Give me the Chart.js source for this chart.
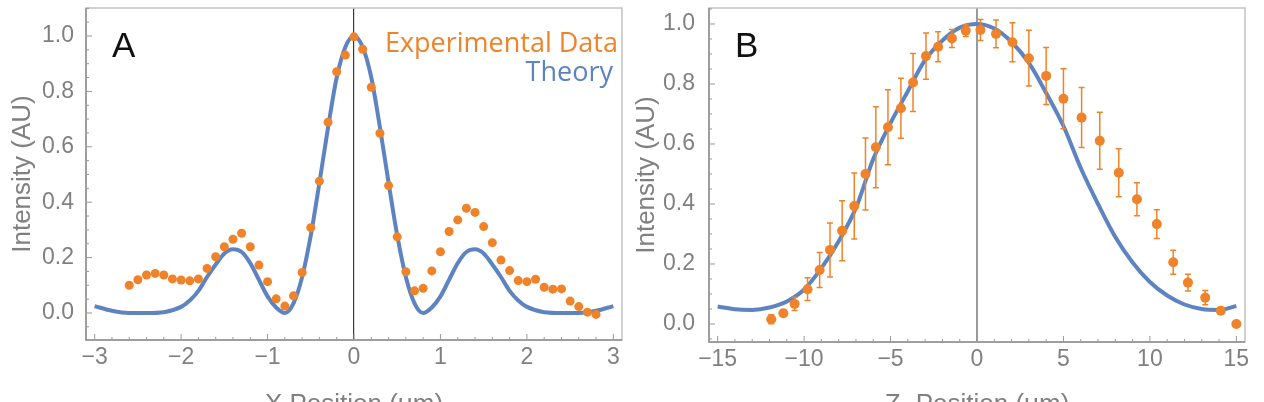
<!DOCTYPE html>
<html>
<head>
<meta charset="utf-8">
<script src="https://cdn.jsdelivr.net/npm/chart.js@4"></script>
<style>
html,body{margin:0;padding:0;background:#fff;overflow:hidden;}
#wrapA{position:absolute;left:0;top:0;width:630px;height:430px;}
#wrapB{position:absolute;left:630px;top:0;width:634px;height:430px;}
</style>
</head>
<body>
<div id="wrapA"><canvas id="chartA"></canvas></div>
<div id="wrapB"><canvas id="chartB"></canvas></div>
<script>
// panel A : lateral profile
const expAX = [-2.6,-2.5,-2.4,-2.3,-2.2,-2.1,-2.0,-1.9,-1.8,-1.7,-1.6,-1.5,-1.4,-1.3,-1.2,-1.1,-1.0,-0.9,-0.8,-0.7,-0.6,-0.5,-0.4,-0.3,-0.2,-0.1,0.0,
               0.1,0.2,0.3,0.4,0.5,0.6,0.7,0.8,0.9,1.0,1.1,1.2,1.3,1.4,1.5,1.6,1.7,1.8,1.9,2.0,2.1,2.2,2.3,2.4,2.5,2.6,2.7,2.8];
const expAY = [0.100,0.120,0.137,0.143,0.137,0.123,0.119,0.116,0.123,0.161,0.203,0.239,0.266,0.288,0.239,0.173,0.113,0.051,0.025,0.062,0.146,0.308,0.476,0.689,0.871,0.931,0.997,
               0.952,0.815,0.649,0.460,0.275,0.149,0.080,0.089,0.152,0.221,0.294,0.336,0.378,0.363,0.312,0.254,0.191,0.153,0.117,0.113,0.122,0.093,0.086,0.087,0.043,0.023,0.003,-0.005];
const theoryAX = [-3.0,-2.8,-2.6,-2.4,-2.2,-2.0,-1.9,-1.8,-1.7,-1.6,-1.5,-1.4,-1.3,-1.2,-1.1,-1.0,-0.9,-0.8,-0.7,-0.6,-0.5,-0.4,-0.3,-0.2,-0.1,0.0,
                  0.1,0.2,0.3,0.4,0.5,0.6,0.7,0.8,0.9,1.0,1.1,1.2,1.3,1.4,1.5,1.6,1.7,1.8,1.9,2.0,2.2,2.4,2.6,2.8,3.0];
const theoryAY = [0.025,0.008,0.0,0.0,0.003,0.022,0.045,0.08,0.13,0.175,0.215,0.23,0.22,0.18,0.12,0.06,0.02,0.0,0.035,0.13,0.28,0.47,0.67,0.85,0.96,1.0,
                  0.96,0.85,0.67,0.47,0.28,0.13,0.035,0.0,0.02,0.06,0.12,0.18,0.22,0.23,0.215,0.175,0.13,0.08,0.045,0.022,0.003,0.0,0.0,0.008,0.025];
const xTicksA = [-3,-2,-1,0,1,2,3];
const yTicksA = [0,0.2,0.4,0.6,0.8,1.0];

// panel B : axial profile
const expBX = [-11.9,-11.2,-10.55,-9.8,-9.1,-8.5,-7.8,-7.1,-6.45,-5.85,-5.15,-4.4,-3.7,-2.95,-2.25,-1.45,-0.65,0.2,1.1,2.05,3.0,4.0,5.0,6.05,7.1,8.2,9.25,10.4,11.35,12.2,13.2,14.1,15.0];
const expBY = [0.016,0.036,0.067,0.116,0.18,0.247,0.311,0.393,0.50,0.589,0.656,0.719,0.805,0.893,0.924,0.952,0.978,0.98,0.967,0.939,0.886,0.827,0.751,0.688,0.611,0.504,0.416,0.333,0.206,0.138,0.088,0.044,0.0];
const expBErr = [0.015,0.01,0.022,0.038,0.058,0.09,0.1,0.11,0.12,0.135,0.125,0.1,0.097,0.077,0.05,0.03,0.02,0.035,0.046,0.065,0.093,0.095,0.1,0.1,0.095,0.08,0.055,0.048,0.04,0.028,0.024,0.01,0];
const theoryBX = [-15,-14,-13,-12,-11,-10,-9,-8,-7,-6,-5,-4,-3,-2,-1,0,1,2,3,4,5,6,7,8,9,10,11,12,13,14,15];
const theoryBY = [0.058,0.049,0.047,0.055,0.075,0.115,0.186,0.276,0.387,0.55,0.67,0.776,0.88,0.945,0.988,1.0,0.985,0.94,0.87,0.77,0.66,0.52,0.40,0.29,0.205,0.14,0.095,0.065,0.05,0.047,0.06];
const xTicksB = [-15,-10,-5,0,5,10,15];
const yTicksB = [0,0.2,0.4,0.6,0.8,1.0];

const BLUE = '#5D83C0';
const ORANGE = '#F08329';
const GREY = '#808080';

function pts(xs, ys) {
    return xs.map((x, i) => ({x: x, y: ys[i]}));
}

function minus(v) {
    return String(v).replace('-', '\u2212');
}

// frame + inward Mathematica style ticks
const frameTicks = {
    id: 'frameTicks',
    beforeDatasetsDraw(chart, args, o) {
        const {ctx, chartArea: a, scales: {x, y}} = chart;
        ctx.save();
        ctx.strokeStyle = '#c2c2c2';
        ctx.lineWidth = 1.5;
        ctx.strokeRect(a.left, a.top, a.right - a.left, a.bottom - a.top);
        ctx.strokeStyle = '#8f8f8f';
        ctx.beginPath();
        ctx.moveTo(a.left, a.top);
        ctx.lineTo(a.left, a.bottom);
        ctx.lineTo(a.right, a.bottom);
        ctx.stroke();

        ctx.lineWidth = 1;
        ctx.strokeStyle = '#999';
        ctx.beginPath();
        const s0 = Math.ceil(x.min / o.minorX - 1e-9), s1 = Math.floor(x.max / o.minorX + 1e-9);
        for (let i = s0; i <= s1; i++) {
            const v = i * o.minorX;
            const major = Math.abs(v / o.majorX - Math.round(v / o.majorX)) < 1e-6;
            const px = x.getPixelForValue(v);
            ctx.moveTo(px, a.bottom);
            ctx.lineTo(px, a.bottom - (major ? 6 : 3));
        }
        const t0 = Math.ceil(y.min / o.minorY - 1e-9), t1 = Math.floor(y.max / o.minorY + 1e-9);
        for (let i = t0; i <= t1; i++) {
            const v = i * o.minorY;
            const major = Math.abs(v / o.majorY - Math.round(v / o.majorY)) < 1e-6;
            const py = y.getPixelForValue(v);
            ctx.moveTo(a.left, py);
            ctx.lineTo(a.left + (major ? 6 : 3), py);
        }
        ctx.stroke();
        ctx.restore();
    }
};

// error bars under the orange points
const errorBars = {
    id: 'errorBars',
    beforeDatasetDraw(chart, args, o) {
        if (args.index !== 0 || !o.err) return;
        const {ctx, scales: {y}} = chart;
        const ds = chart.data.datasets[0];
        ctx.save();
        ctx.strokeStyle = ORANGE;
        ctx.lineWidth = 1.5;
        args.meta.data.forEach((p, i) => {
            const e = o.err[i];
            if (!e) return;
            const v = ds.data[i].y;
            const y1 = y.getPixelForValue(v + e), y2 = y.getPixelForValue(v - e);
            ctx.beginPath();
            ctx.moveTo(p.x, y1); ctx.lineTo(p.x, y2);
            ctx.moveTo(p.x - 3, y1); ctx.lineTo(p.x + 3, y1);
            ctx.moveTo(p.x - 3, y2); ctx.lineTo(p.x + 3, y2);
            ctx.stroke();
        });
        ctx.restore();
    }
};

// panel letter and the text legend
const panelText = {
    id: 'panelText',
    afterDraw(chart, args, o) {
        const {ctx, chartArea: a} = chart;
        ctx.save();
        ctx.textBaseline = 'alphabetic';
        ctx.fillStyle = '#111';
        ctx.font = '35px "Liberation Sans", Arial, sans-serif';
        ctx.textAlign = 'left';
        ctx.fillText(o.letter, a.left + 26, a.top + 49);
        if (o.legend) {
            ctx.textAlign = 'right';
            ctx.font = '27px "Open Sans", sans-serif';
            ctx.fillStyle = ORANGE;
            ctx.fillText('Experimental Data', a.right - 4, a.top + 44);
            ctx.fillStyle = BLUE;
            ctx.fillText('Theory', a.right - 9, a.top + 73);
        }
        ctx.restore();
    }
};

function makeChart(id, c) {
    const ctx = document.getElementById(id).getContext('2d');
    return new Chart(ctx, {
        type: 'scatter',
        data: {
            datasets: [
                {
                    label: 'Experimental Data',
                    data: pts(c.expX, c.expY),
                    backgroundColor: ORANGE,
                    borderColor: ORANGE,
                    borderWidth: 0,
                    pointRadius: c.r,
                    pointHoverRadius: c.r
                },
                {
                    label: 'Theory',
                    type: 'line',
                    data: pts(c.thX, c.thY),
                    borderColor: BLUE,
                    borderWidth: 4,
                    pointRadius: 0,
                    fill: false,
                    cubicInterpolationMode: 'monotone'
                }
            ]
        },
        options: {
            responsive: true,
            maintainAspectRatio: false,
            animation: false,
            devicePixelRatio: 1,
            layout: {padding: {left: 0, right: c.padRight, top: 8, bottom: 0}},
            plugins: {
                legend: {display: false},
                tooltip: {enabled: false},
                frameTicks: {minorX: c.minorX, majorX: c.majorX, minorY: 0.05, majorY: 0.2},
                errorBars: {err: c.err},
                panelText: {letter: c.letter, legend: c.legend}
            },
            scales: {
                x: {
                    type: 'linear',
                    min: c.xMin,
                    max: c.xMax,
                    afterBuildTicks: s => { s.ticks = c.xTicks.map(v => ({value: v})); },
                    afterFit: s => { s.height = c.xAxisH; s.paddingLeft = 0; s.paddingRight = 0; },
                    ticks: {
                        callback: v => minus(v),
                        font: {family: '"Liberation Sans", Arial, sans-serif', size: 23},
                        color: GREY,
                        padding: 4,
                        maxRotation: 0,
                        autoSkip: false
                    },
                    grid: {
                        color: g => g.tick && g.tick.value === 0 ? c.zeroColor : 'rgba(0,0,0,0)',
                        lineWidth: c.zeroWidth,
                        drawTicks: false
                    },
                    border: {display: false},
                    title: {
                        display: true,
                        text: c.xTitle,
                        font: {family: '"Liberation Sans", Arial, sans-serif', size: 26},
                        color: GREY,
                        padding: {top: 0, bottom: 10}
                    }
                },
                y: {
                    type: 'linear',
                    min: c.yMin,
                    max: c.yMax,
                    afterBuildTicks: s => { s.ticks = c.yTicks.map(v => ({value: v})); },
                    afterFit: s => { s.width = c.yAxisW; s.paddingTop = 0; s.paddingBottom = 0; },
                    ticks: {
                        callback: v => v.toFixed(1),
                        font: {family: '"Liberation Sans", Arial, sans-serif', size: 23},
                        color: GREY,
                        padding: c.yPad
                    },
                    grid: {display: false},
                    border: {display: false},
                    title: {
                        display: true,
                        text: 'Intensity (AU)',
                        font: {family: '"Liberation Sans", Arial, sans-serif', size: 26},
                        color: GREY,
                        padding: {top: c.yTitlePad, bottom: 0}
                    }
                }
            }
        },
        plugins: [frameTicks, errorBars, panelText]
    });
}

makeChart('chartA', {
    expX: expAX, expY: expAY, thX: theoryAX, thY: theoryAY, err: null, r: 4.5,
    xMin: -3.1, xMax: 3.1, yMin: -0.0975, yMax: 1.101,
    xTicks: xTicksA, yTicks: yTicksA, minorX: 0.2, majorX: 1,
    xTitle: 'X Position (\u03bcm)', letter: 'A', legend: true,
    padRight: 8, yAxisW: 86, xAxisH: 90, yPad: 4, yTitlePad: 7,
    zeroColor: '#3a3a3a', zeroWidth: 1.2
});

makeChart('chartB', {
    expX: expBX, expY: expBY, thX: theoryBX, thY: theoryBY, err: expBErr, r: 5,
    xMin: -15.5, xMax: 15.5, yMin: -0.06, yMax: 1.0533,
    xTicks: xTicksB, yTicks: yTicksB, minorX: 1, majorX: 5,
    xTitle: 'Z\u2212Position (\u03bcm)', letter: 'B', legend: false,
    padRight: 19, yAxisW: 79, xAxisH: 88, yPad: 6, yTitlePad: 1,
    zeroColor: '#9a9a9a', zeroWidth: 2
});
</script>
</body>
</html>
